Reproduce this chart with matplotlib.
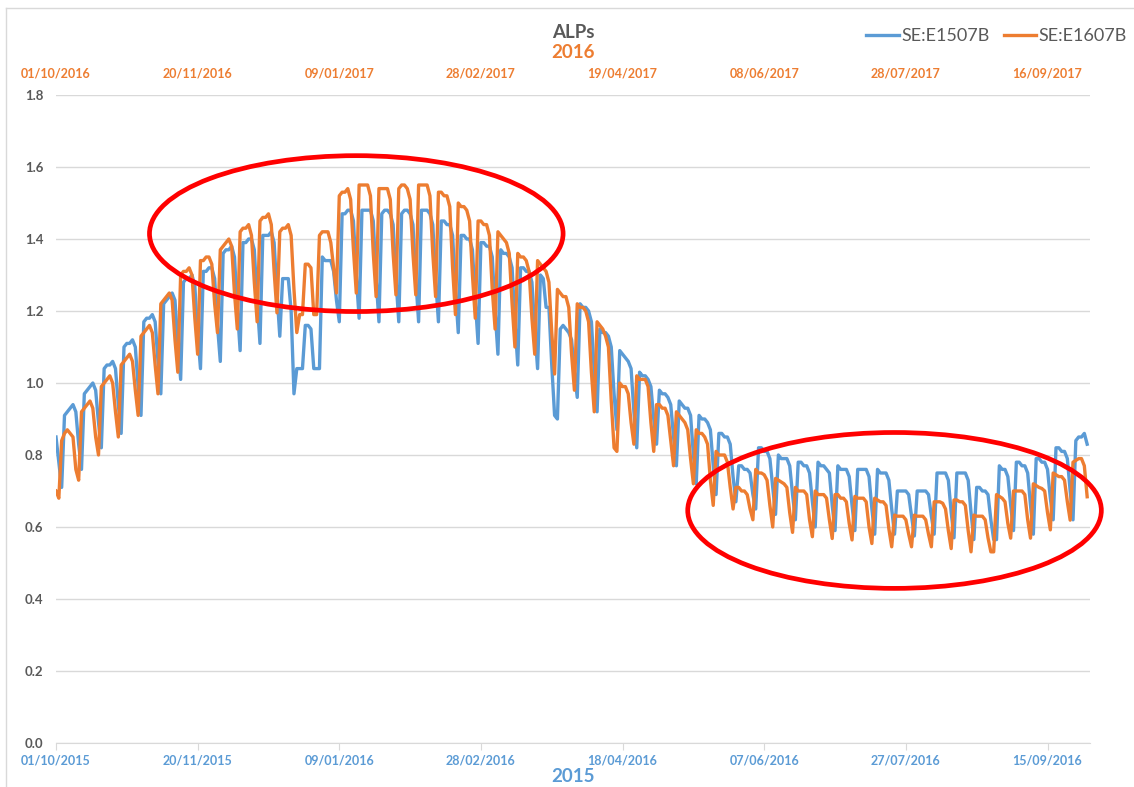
import pandas as pd
import matplotlib
matplotlib.use("Agg")
import matplotlib.pyplot as plt
import matplotlib.dates as mdates
from matplotlib.patches import Ellipse
from matplotlib.lines import Line2D

# Daily ALPs, one line per week (first line = the partial opening week)
se_e1507b = [
    0.85, 0.78, 0.71,
    0.91, 0.92, 0.93, 0.94, 0.92, 0.83, 0.76,
    0.97, 0.98, 0.99, 1.00, 0.98, 0.89, 0.82,
    1.04, 1.05, 1.05, 1.06, 1.04, 0.94, 0.86,
    1.10, 1.11, 1.11, 1.12, 1.10, 0.99, 0.91,
    1.17, 1.18, 1.18, 1.19, 1.17, 1.06, 0.97,
    1.22, 1.23, 1.24, 1.25, 1.23, 1.11, 1.01,
    1.28, 1.29, 1.29, 1.30, 1.27, 1.14, 1.04,
    1.31, 1.31, 1.32, 1.32, 1.29, 1.16, 1.06,
    1.36, 1.37, 1.37, 1.38, 1.35, 1.21, 1.09,
    1.39, 1.39, 1.40, 1.40, 1.37, 1.23, 1.11,
    1.41, 1.41, 1.41, 1.42, 1.39, 1.25, 1.13,
    1.29, 1.29, 1.29, 1.20, 0.97, 1.04, 1.04,
    1.04, 1.16, 1.16, 1.15, 1.04, 1.04, 1.04,
    1.35, 1.34, 1.34, 1.34, 1.31, 1.23, 1.17,
    1.47, 1.47, 1.48, 1.48, 1.45, 1.30, 1.18,
    1.48, 1.48, 1.48, 1.48, 1.45, 1.29, 1.17,
    1.47, 1.48, 1.48, 1.47, 1.44, 1.29, 1.17,
    1.47, 1.48, 1.48, 1.47, 1.44, 1.29, 1.17,
    1.48, 1.48, 1.48, 1.47, 1.44, 1.29, 1.17,
    1.45, 1.45, 1.44, 1.44, 1.41, 1.26, 1.14,
    1.41, 1.41, 1.40, 1.40, 1.37, 1.23, 1.11,
    1.39, 1.39, 1.38, 1.38, 1.35, 1.20, 1.08,
    1.37, 1.36, 1.36, 1.35, 1.32, 1.17, 1.05,
    1.32, 1.32, 1.31, 1.31, 1.28, 1.15, 1.04,
    1.30, 1.29, 1.21, 1.21, 1.05, 0.91, 0.90,
    1.15, 1.16, 1.15, 1.14, 1.12, 1.03, 0.96,
    1.22, 1.21, 1.21, 1.20, 1.17, 1.03, 0.92,
    1.15, 1.14, 1.14, 1.13, 1.10, 0.97, 0.87,
    1.09, 1.08, 1.07, 1.06, 1.04, 0.92, 0.82,
    1.03, 1.02, 1.02, 1.01, 0.99, 0.90, 0.83,
    0.98, 0.97, 0.97, 0.96, 0.94, 0.85, 0.77,
    0.95, 0.94, 0.93, 0.93, 0.91, 0.80, 0.72,
    0.91, 0.90, 0.90, 0.89, 0.87, 0.77, 0.69,
    0.86, 0.86, 0.85, 0.85, 0.83, 0.74, 0.67,
    0.77, 0.77, 0.76, 0.76, 0.75, 0.69, 0.65,
    0.82, 0.82, 0.81, 0.81, 0.79, 0.71, 0.635,
    0.80, 0.79, 0.79, 0.79, 0.77, 0.69, 0.62,
    0.78, 0.78, 0.77, 0.77, 0.75, 0.67, 0.60,
    0.78, 0.77, 0.77, 0.76, 0.75, 0.66, 0.59,
    0.77, 0.76, 0.76, 0.76, 0.74, 0.66, 0.59,
    0.76, 0.76, 0.76, 0.76, 0.74, 0.65, 0.58,
    0.76, 0.75, 0.75, 0.75, 0.73, 0.65, 0.58,
    0.70, 0.70, 0.70, 0.70, 0.69, 0.63, 0.575,
    0.70, 0.70, 0.70, 0.70, 0.69, 0.63, 0.58,
    0.75, 0.75, 0.75, 0.75, 0.73, 0.64, 0.57,
    0.75, 0.75, 0.75, 0.75, 0.73, 0.64, 0.565,
    0.71, 0.71, 0.70, 0.70, 0.69, 0.62, 0.565,
    0.565, 0.77, 0.76, 0.76, 0.74, 0.66, 0.59,
    0.78, 0.78, 0.77, 0.77, 0.75, 0.66, 0.58,
    0.79, 0.79, 0.78, 0.78, 0.76, 0.68, 0.62,
    0.82, 0.82, 0.81, 0.81, 0.79, 0.70, 0.62,
    0.84, 0.85, 0.85, 0.86, 0.83,
]

se_e1607b = [
    0.70, 0.68,
    0.84, 0.86, 0.87, 0.86, 0.85, 0.76, 0.73,
    0.92, 0.93, 0.94, 0.95, 0.93, 0.85, 0.80,
    0.99, 1.00, 1.01, 1.02, 1.00, 0.92, 0.85,
    1.05, 1.06, 1.07, 1.08, 1.06, 0.98, 0.91,
    1.13, 1.14, 1.15, 1.16, 1.14, 1.05, 0.97,
    1.22, 1.23, 1.24, 1.25, 1.23, 1.12, 1.03,
    1.30, 1.31, 1.31, 1.32, 1.30, 1.18, 1.08,
    1.34, 1.34, 1.35, 1.35, 1.33, 1.22, 1.14,
    1.37, 1.38, 1.39, 1.40, 1.38, 1.25, 1.15,
    1.42, 1.43, 1.43, 1.44, 1.41, 1.28, 1.17,
    1.45, 1.46, 1.46, 1.47, 1.44, 1.31, 1.195,
    1.42, 1.43, 1.43, 1.44, 1.41, 1.26, 1.14,
    1.19, 1.19, 1.33, 1.33, 1.32, 1.19, 1.19,
    1.41, 1.42, 1.42, 1.42, 1.39, 1.32, 1.25,
    1.52, 1.53, 1.53, 1.54, 1.51, 1.37, 1.25,
    1.55, 1.55, 1.55, 1.55, 1.52, 1.36, 1.24,
    1.54, 1.54, 1.54, 1.54, 1.51, 1.36, 1.245,
    1.54, 1.55, 1.55, 1.54, 1.51, 1.36, 1.245,
    1.55, 1.55, 1.55, 1.55, 1.52, 1.36, 1.24,
    1.53, 1.53, 1.52, 1.52, 1.49, 1.32, 1.19,
    1.50, 1.49, 1.49, 1.48, 1.45, 1.30, 1.18,
    1.45, 1.45, 1.44, 1.44, 1.41, 1.26, 1.15,
    1.42, 1.41, 1.40, 1.39, 1.36, 1.22, 1.10,
    1.36, 1.35, 1.35, 1.34, 1.31, 1.18, 1.08,
    1.34, 1.33, 1.32, 1.31, 1.28, 1.14, 1.025,
    1.26, 1.25, 1.24, 1.24, 1.21, 1.08, 0.98,
    1.22, 1.21, 1.21, 1.20, 1.17, 1.03, 0.92,
    1.17, 1.16, 1.15, 1.13, 1.10, 0.95, 0.82,
    0.81, 1.00, 0.99, 0.99, 0.97, 0.89, 0.83,
    1.02, 1.01, 1.01, 1.01, 0.99, 0.89, 0.81,
    0.94, 0.94, 0.93, 0.93, 0.91, 0.84, 0.77,
    0.92, 0.91, 0.90, 0.89, 0.87, 0.79, 0.72,
    0.87, 0.86, 0.86, 0.85, 0.83, 0.73, 0.66,
    0.81, 0.80, 0.80, 0.80, 0.78, 0.71, 0.65,
    0.71, 0.71, 0.70, 0.70, 0.69, 0.65, 0.62,
    0.76, 0.75, 0.75, 0.745, 0.73, 0.66, 0.60,
    0.735, 0.73, 0.725, 0.72, 0.71, 0.64, 0.585,
    0.71, 0.70, 0.70, 0.70, 0.69, 0.62, 0.573,
    0.70, 0.69, 0.69, 0.69, 0.68, 0.62, 0.568,
    0.69, 0.69, 0.68, 0.68, 0.67, 0.61, 0.564,
    0.685, 0.68, 0.68, 0.68, 0.67, 0.60, 0.554,
    0.68, 0.675, 0.67, 0.67, 0.66, 0.595, 0.545,
    0.633, 0.63, 0.63, 0.63, 0.62, 0.58, 0.545,
    0.633, 0.63, 0.63, 0.63, 0.62, 0.58, 0.545,
    0.67, 0.67, 0.67, 0.666, 0.65, 0.59, 0.54,
    0.675, 0.675, 0.67, 0.67, 0.66, 0.59, 0.531,
    0.633, 0.63, 0.63, 0.63, 0.62, 0.57, 0.531,
    0.531, 0.69, 0.685, 0.68, 0.67, 0.61, 0.569,
    0.70, 0.70, 0.70, 0.70, 0.69, 0.62, 0.569,
    0.72, 0.715, 0.71, 0.707, 0.70, 0.64, 0.592,
    0.75, 0.745, 0.74, 0.74, 0.73, 0.67, 0.619,
    0.78, 0.785, 0.79, 0.79, 0.77, 0.684,
]

series_names = ['SE:E1507B', 'SE:E1607B']
start_2015 = '2015-10-01'
start_2016 = '2016-10-01'
bottom_ticks = ['01/10/2015', '20/11/2015', '09/01/2016', '28/02/2016',
                '18/04/2016', '07/06/2016', '27/07/2016', '15/09/2016']
top_ticks = ['01/10/2016', '20/11/2016', '09/01/2017', '28/02/2017',
             '19/04/2017', '08/06/2017', '28/07/2017', '16/09/2017']

BLUE = '#5B9BD5'
ORANGE = '#ED7D31'
GREY = '#595959'
LIGHT = '#D9D9D9'

plt.rcParams['font.family'] = ['Lato', 'DejaVu Sans']

fig = plt.figure(figsize=(11.34, 7.87), dpi=100)
fig.subplots_adjust(left=56 / 1134, right=1090 / 1134, bottom=1 - 743 / 787, top=1 - 95 / 787)
ax = fig.add_subplot(111)
ax2 = ax.twiny()

s1 = pd.Timestamp(start_2015)
s2 = pd.Timestamp(start_2016)
x1 = pd.date_range(s1, periods=len(se_e1507b), freq='D')
x2 = pd.date_range(s2, periods=len(se_e1607b), freq='D')

ax.plot(x1, se_e1507b, color=BLUE, lw=2.4, solid_joinstyle='round', zorder=3)
ax2.plot(x2, se_e1607b, color=ORANGE, lw=2.4, solid_joinstyle='round', zorder=3)

ax.set_xlim(s1, s1 + pd.Timedelta(days=365))
ax2.set_xlim(s2, s2 + pd.Timedelta(days=365))
ax.set_ylim(0, 1.8)
ax.set_yticks([i * 0.2 for i in range(10)])
ax.yaxis.set_major_formatter(plt.FormatStrFormatter('%.1f'))
ax.grid(axis='y', color=LIGHT, lw=1)
ax.set_axisbelow(True)

ax.set_xticks(pd.to_datetime(bottom_ticks, format='%d/%m/%Y'))
ax.set_xticklabels(bottom_ticks)
ax2.set_xticks(pd.to_datetime(top_ticks, format='%d/%m/%Y'))
ax2.set_xticklabels(top_ticks)

for a in (ax, ax2):
    for sp in a.spines.values():
        sp.set_visible(False)
ax.spines['bottom'].set_visible(True)
ax.spines['bottom'].set_color(LIGHT)

ax.tick_params(axis='x', colors=LIGHT, length=5, pad=3, labelsize=9, labelcolor=BLUE)
ax.tick_params(axis='y', length=0, pad=9, labelsize=9.5, labelcolor=GREY)
ax2.tick_params(axis='x', length=0, pad=11, labelsize=9, labelcolor=ORANGE)
for lab in ax.get_xticklabels() + ax.get_yticklabels() + ax2.get_xticklabels():
    lab.set_fontweight('bold')

# red highlight rings (annotation, in days from start / ALPs)
rings = [(106, 1.415, 146, 0.433), (296, 0.646, 146, 0.433)]
for day, val, w, h in rings:
    cx = mdates.date2num(s2 + pd.Timedelta(days=day))
    ax2.add_patch(Ellipse((cx, val), w, h, fill=False, ec='#FF0000', lw=3.4,
                          zorder=5, clip_on=False))

fig.text(573 / 1134, 1 - 32 / 787, 'ALPs', ha='center', va='center',
         fontsize=13.5, fontweight='bold', color=GREY)
fig.text(573 / 1134, 1 - 52 / 787, '2016', ha='center', va='center',
         fontsize=13.5, fontweight='bold', color=ORANGE)
fig.text(573 / 1134, 1 - 776 / 787, '2015', ha='center', va='center',
         fontsize=13.5, fontweight='bold', color=BLUE)

handles = [Line2D([], [], color=BLUE, lw=2.4), Line2D([], [], color=ORANGE, lw=2.4)]
leg = fig.legend(handles, series_names, loc='center right', ncol=2, frameon=False,
                 bbox_to_anchor=(1143 / 1134, 1 - 36 / 787), fontsize=13,
                 handlelength=1.8, handletextpad=0.12, columnspacing=0.8)
for t in leg.get_texts():
    t.set_color(GREY)

# thin chart-area frame, as in the spreadsheet export
fig.add_artist(Line2D([5.5 / 1134, 5.5 / 1134], [0, 1 - 7.5 / 787], color=LIGHT, lw=1))
fig.add_artist(Line2D([5.5 / 1134, 1], [1 - 7.5 / 787, 1 - 7.5 / 787], color=LIGHT, lw=1))

fig.savefig('out.png', dpi=100)
